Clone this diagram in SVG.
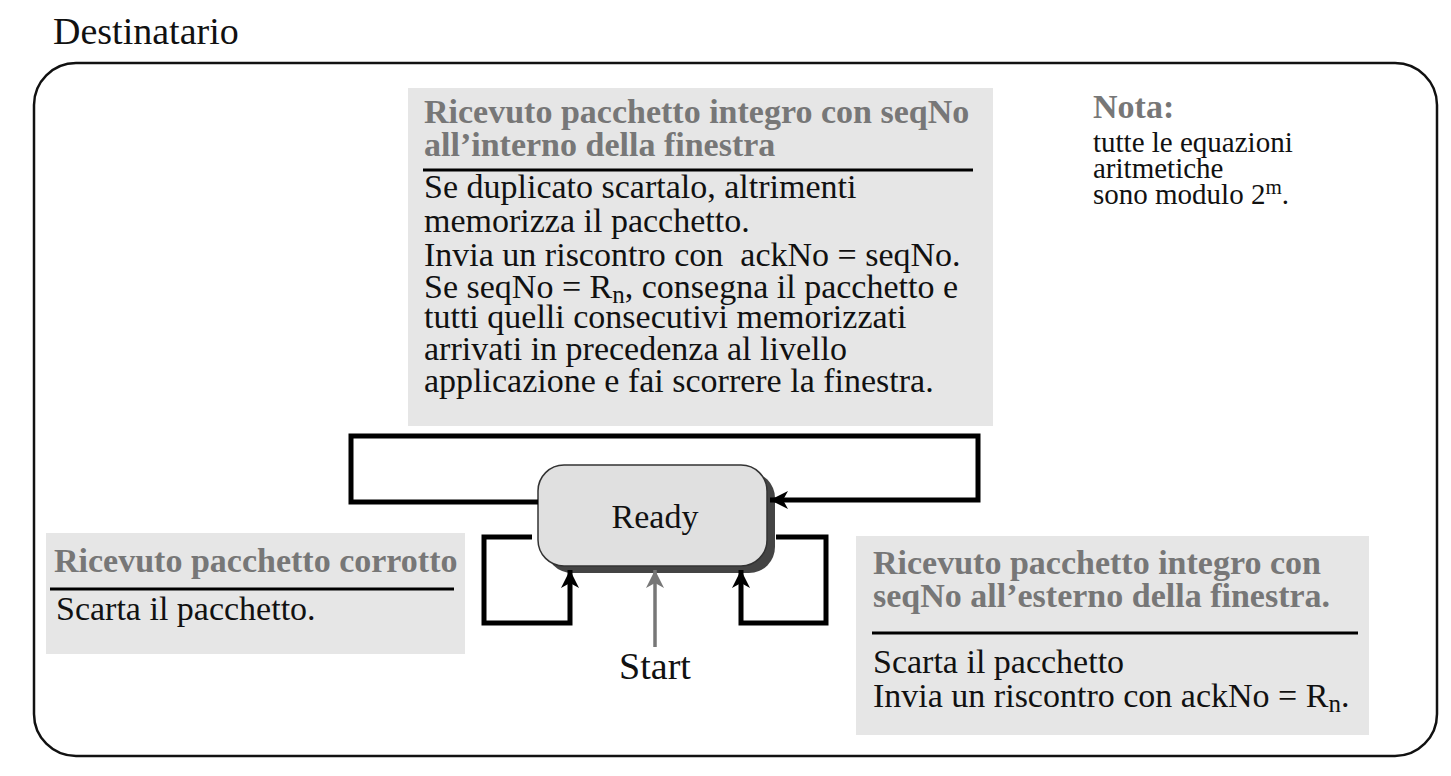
<svg xmlns="http://www.w3.org/2000/svg" width="1451" height="776" viewBox="0 0 1451 776" font-family="'Liberation Serif', 'Times New Roman', serif">
<style>
  text { font-family: "Liberation Serif", "Times New Roman", serif; fill: #111; }
  .ttl { font-weight: bold; fill: #777; font-size: 34px; }
  .txt { font-size: 34px; fill: #111; }
  .nt { font-size: 29px; fill: #111; }
  .box { fill: #e6e6e6; }
  .rule { stroke: #000; stroke-width: 3; }
  .conn { fill: none; stroke: #000; stroke-width: 5; }
</style>
<defs>
  <marker id="ah" markerUnits="userSpaceOnUse" markerWidth="20" markerHeight="18" refX="18" refY="9" orient="auto">
    <path d="M0,0 L18,9 L0,18 L5,9 Z" fill="#000"/>
  </marker>
  <marker id="ahg" markerUnits="userSpaceOnUse" markerWidth="20" markerHeight="18" refX="18" refY="9" orient="auto">
    <path d="M0,0 L18,9 L0,18 L5,9 Z" fill="#777"/>
  </marker>
</defs>
<rect width="1451" height="776" fill="#fff"/>

<g id="title">
  <text x="53" y="44" font-size="38">Destinatario</text>
</g>

<g id="frame">
  <rect x="34" y="63" width="1403" height="693" rx="42" ry="42" fill="none" stroke="#111" stroke-width="2.5"/>
</g>

<g id="box-inside">
  <rect class="box" x="408" y="88" width="585" height="338"/>
  <text class="ttl" x="424" y="123">Ricevuto pacchetto integro con seqNo</text>
  <text class="ttl" x="424" y="156">all’interno della finestra</text>
  <line class="rule" x1="423" y1="170" x2="973" y2="170"/>
  <text class="txt" x="424" y="198">Se duplicato scartalo, altrimenti</text>
  <text class="txt" x="424" y="232">memorizza il pacchetto.</text>
  <text class="txt" x="424" y="266" xml:space="preserve">Invia un riscontro con  ackNo = seqNo.</text>
  <text class="txt" x="424" y="298">Se seqNo = R<tspan font-size="25" dy="5">n</tspan><tspan dy="-5">, consegna il pacchetto e</tspan></text>
  <text class="txt" x="424" y="328">tutti quelli consecutivi memorizzati</text>
  <text class="txt" x="424" y="360">arrivati in precedenza al livello</text>
  <text class="txt" x="424" y="392">applicazione e fai scorrere la finestra.</text>
</g>

<g id="nota">
  <text class="ttl" x="1093" y="118">Nota:</text>
  <text class="nt" x="1093" y="152">tutte le equazioni</text>
  <text class="nt" x="1093" y="178">aritmetiche</text>
  <text class="nt" x="1093" y="204">sono modulo 2<tspan font-size="21" dy="-10">m</tspan><tspan dy="10">.</tspan></text>
</g>

<g id="ready">
  <rect x="546" y="472" width="229" height="101" rx="26" ry="26" fill="#444"/>
  <rect x="538" y="465" width="229" height="101" rx="26" ry="26" fill="#e0e0e0" stroke="#333" stroke-width="1.5"/>
  <text x="655" y="528" font-size="34" text-anchor="middle">Ready</text>
</g>

<g id="box-corrupt">
  <rect class="box" x="46" y="533" width="419" height="121"/>
  <text class="ttl" x="54" y="572">Ricevuto pacchetto corrotto</text>
  <line class="rule" x1="50" y1="589" x2="454" y2="589"/>
  <text class="txt" x="56" y="620">Scarta il pacchetto.</text>
</g>

<g id="box-outside">
  <rect class="box" x="856" y="536" width="513" height="199"/>
  <text class="ttl" x="873" y="574">Ricevuto pacchetto integro con</text>
  <text class="ttl" x="873" y="607">seqNo all’esterno della finestra.</text>
  <line class="rule" x1="872" y1="633" x2="1358" y2="633"/>
  <text class="txt" x="873" y="673">Scarta il pacchetto</text>
  <text class="txt" x="873" y="707">Invia un riscontro con ackNo = R<tspan font-size="25" dy="5">n</tspan><tspan dy="-5">.</tspan></text>
</g>

<g id="start">
  <text x="655" y="679" font-size="38" text-anchor="middle">Start</text>
</g>

<g id="connectors">
  <path class="conn" d="M538,502 L351,502 L351,436 L978,436 L978,500 L770,500" marker-end="url(#ah)"/>
  <path class="conn" d="M532,537 L484,537 L484,623 L570,623 L570,570" marker-end="url(#ah)"/>
  <path class="conn" d="M776,537 L826,537 L826,623 L741,623 L741,570" marker-end="url(#ah)"/>
  <path fill="none" stroke="#777" stroke-width="3.5" d="M655,647 L655,570" marker-end="url(#ahg)"/>
</g>
</svg>
